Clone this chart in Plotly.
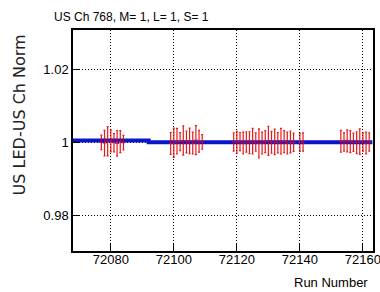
import plotly.graph_objects as go

# Data
runs = [72077, 72078, 72079, 72080, 72081, 72082, 72083, 72084,
        72099, 72100, 72101, 72102, 72103, 72104, 72105, 72106, 72107, 72108, 72109,
        72119, 72120, 72121, 72122, 72123, 72124, 72125, 72126, 72127, 72128,
        72129, 72130, 72131, 72132, 72133, 72134, 72135, 72136, 72137, 72138,
        72140, 72141,
        72153, 72154, 72155, 72156, 72157, 72158, 72159, 72160, 72161, 72162]
ratio = [1.0000, 0.9998, 1.0003, 1.0004, 0.9999, 0.9997, 1.0002, 0.9999,
         0.9997, 0.9999, 1.0003, 1.0002, 1.0005, 1.0001, 1.0004, 0.9998, 1.0006, 1.0003, 1.0001,
         1.0001, 1.0000, 1.0002, 0.9998, 1.0001, 0.9999, 1.0003, 1.0001, 0.9997, 0.9998,
         1.0002, 1.0004, 1.0000, 1.0001, 0.9999, 1.0003, 1.0002, 0.9998, 1.0001, 1.0000,
         1.0000, 1.0001,
         1.0003, 1.0001, 1.0004, 1.0002, 1.0000, 0.9999, 1.0002, 1.0001, 0.9998, 1.0001]
err = [0.0020, 0.0035, 0.0040, 0.0030, 0.0025, 0.0035, 0.0030, 0.0020,
       0.0030, 0.0040, 0.0035, 0.0025, 0.0040, 0.0030, 0.0035, 0.0030, 0.0040, 0.0030, 0.0020,
       0.0025, 0.0030, 0.0025, 0.0030, 0.0028, 0.0030, 0.0035, 0.0025, 0.0040, 0.0030,
       0.0030, 0.0040, 0.0030, 0.0035, 0.0028, 0.0035, 0.0030, 0.0030, 0.0030, 0.0025,
       0.0025, 0.0025,
       0.0030, 0.0025, 0.0030, 0.0030, 0.0025, 0.0030, 0.0035, 0.0025, 0.0030, 0.0025]
ref_x = [72068, 72092, 72092, 72163]
ref_y = [1.0005, 1.0005, 1.0000, 1.0000]

x_ticks = [72080, 72100, 72120, 72140, 72160]
x_tick_text = ["72080", "72100", "72120", "72140", "72160"]
y_ticks = [0.98, 1.0, 1.02]
y_tick_text = ["0.98", "1", "1.02"]

fig = go.Figure()
fig.add_trace(go.Scatter(x=ref_x, y=ref_y, mode="lines",
                         line=dict(color="#0a14c8", width=4), hoverinfo="skip"))
fig.add_trace(go.Scatter(x=runs, y=ratio, mode="markers",
                         marker=dict(color="rgba(150,20,120,0.9)", size=3, symbol="line-ew-open",
                                     line=dict(color="rgba(150,20,120,0.9)", width=1)),
                         error_y=dict(type="data", array=err, visible=True,
                                      color="rgba(230,0,0,0.9)", thickness=1.2, width=1)))

font_main = "Liberation Sans, Arial"
fig.update_layout(
    width=380, height=292,
    margin=dict(l=73, r=7, t=30, b=41, autoexpand=False),
    paper_bgcolor="white", plot_bgcolor="white",
    showlegend=False,
    font=dict(family=font_main, size=13, color="black"),
)
fig.update_xaxes(range=[72068, 72163.2], tickvals=x_ticks, ticktext=x_tick_text,
                 ticks="inside", ticklen=7, automargin=False, ticklabeloverflow="allow",
                 ticklabelstandoff=-4,
                 tickcolor="black", showline=True, linecolor="black", linewidth=1.5,
                 mirror=True, showgrid=True, gridcolor="black", griddash="1px,2px", gridwidth=1,
                 zeroline=False, tickfont=dict(family=font_main, size=13))
fig.update_yaxes(range=[0.9702, 1.0308], tickvals=y_ticks, ticktext=y_tick_text,
                 ticks="inside", ticklen=7, tickcolor="black", automargin=False,
                 showline=True, linecolor="black", linewidth=1.5, mirror=True,
                 showgrid=True, gridcolor="black", griddash="1px,2px", gridwidth=1,
                 zeroline=False, tickfont=dict(family=font_main, size=13))

fig.add_annotation(text="US Ch 768, M= 1, L= 1, S= 1", xref="paper", yref="paper",
                   x=(52 - 73) / 300, y=(251 - 18.5) / 220, xanchor="left", yanchor="middle",
                   showarrow=False, font=dict(family=font_main, size=12, color="black"))
fig.add_annotation(text="US LED-US Ch Norm", xref="paper", yref="paper",
                   x=(19 - 73) / 300, y=(251 - 116) / 220, xanchor="center", yanchor="middle",
                   textangle=-90, showarrow=False,
                   font=dict(family="DejaVu Sans, Liberation Sans", size=16, color="#222222"))
fig.add_annotation(text="Run Number", xref="paper", yref="paper",
                   x=1 + (370 - 373) / 300, y=-(282 - 251) / 220, xanchor="right", yanchor="middle",
                   showarrow=False, font=dict(family=font_main, size=13, color="black"))

fig.write_html("out.html", config={"displayModeBar": False},
               post_script="document.body.style.margin='0';")
